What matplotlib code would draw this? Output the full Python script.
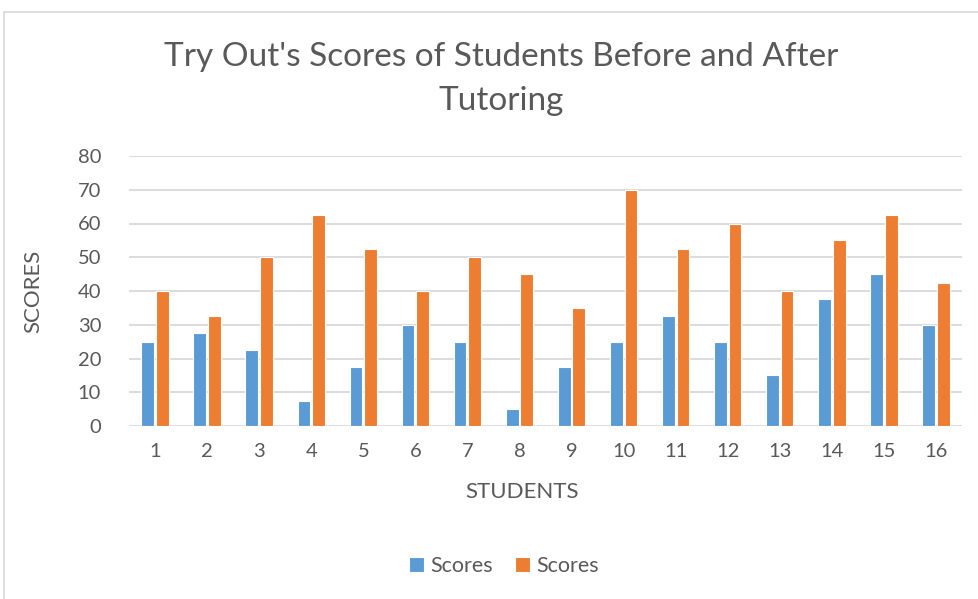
import matplotlib.pyplot as plt
from matplotlib.lines import Line2D
import numpy as np

# Data
students = [str(i) for i in range(1, 17)]
before = [25, 27.5, 22.5, 7.5, 17.5, 30, 25, 5, 17.5, 25, 32.5, 25, 15, 37.5, 45, 30]
after = [40, 32.5, 50, 62.5, 52.5, 40, 50, 45, 35, 70, 52.5, 60, 40, 55, 62.5, 42.5]
series_names = ["Scores", "Scores"]
colors = ['#5B9BD5', '#ED7D31']
text_color = '#595959'

plt.rcParams['font.family'] = ['Lato', 'DejaVu Sans']

fig = plt.figure(figsize=(9.79, 5.99), dpi=100)
ax = fig.add_axes([129 / 979, 1 - 426 / 599, 833 / 979, 270 / 599])

x = np.arange(len(students))
w = 0.245
ax.bar(x - 0.14, before, w, color=colors[0], edgecolor='white', linewidth=0.8,
       label=series_names[0], zorder=3)
ax.bar(x + 0.14, after, w, color=colors[1], edgecolor='white', linewidth=0.8,
       label=series_names[1], zorder=3)

ax.set_xlim(-0.5, len(students) - 0.5)
ax.set_ylim(0, 80)
ax.set_yticks(range(0, 81, 10))
ax.set_xticks(x)
ax.set_xticklabels(students)
ax.tick_params(axis='both', length=0, labelsize=14.5, colors=text_color)
ax.tick_params(axis='y', pad=20)
ax.tick_params(axis='x', pad=12)
ax.grid(axis='y', color='#d9d9d9', linewidth=1.3, zorder=0)
for s in ax.spines.values():
    s.set_visible(False)

# chart title and axis titles placed relative to the whole chart area
fig.text(501 / 979, 1 - 79 / 599, "Try Out's Scores of Students Before and After\nTutoring",
         ha='center', va='center', fontsize=24, color=text_color, linespacing=1.6)
fig.text(522 / 979, 1 - 492 / 599, "STUDENTS", ha='center', va='center',
         fontsize=16, color=text_color)
fig.text(33 / 979, 1 - 291 / 599, "SCORES", ha='center', va='center',
         rotation=90, fontsize=16, color=text_color)

fig.legend(loc='center', bbox_to_anchor=(504 / 979, 1 - 566 / 599), ncol=2,
           frameon=False, fontsize=15.5, labelcolor=text_color, handlelength=0.7,
           handleheight=0.7, handletextpad=0.3, columnspacing=1.0)

# light chart border (top and left edges visible in the crop)
fig.add_artist(Line2D([4.5 / 979, 4.5 / 979], [0, 1 - 11.5 / 599], transform=fig.transFigure,
                      color='#d9d9d9', linewidth=1.2))
fig.add_artist(Line2D([4.5 / 979, 1], [1 - 11.5 / 599, 1 - 11.5 / 599], transform=fig.transFigure,
                      color='#d9d9d9', linewidth=1.2))

plt.savefig('out.png', dpi=100)
